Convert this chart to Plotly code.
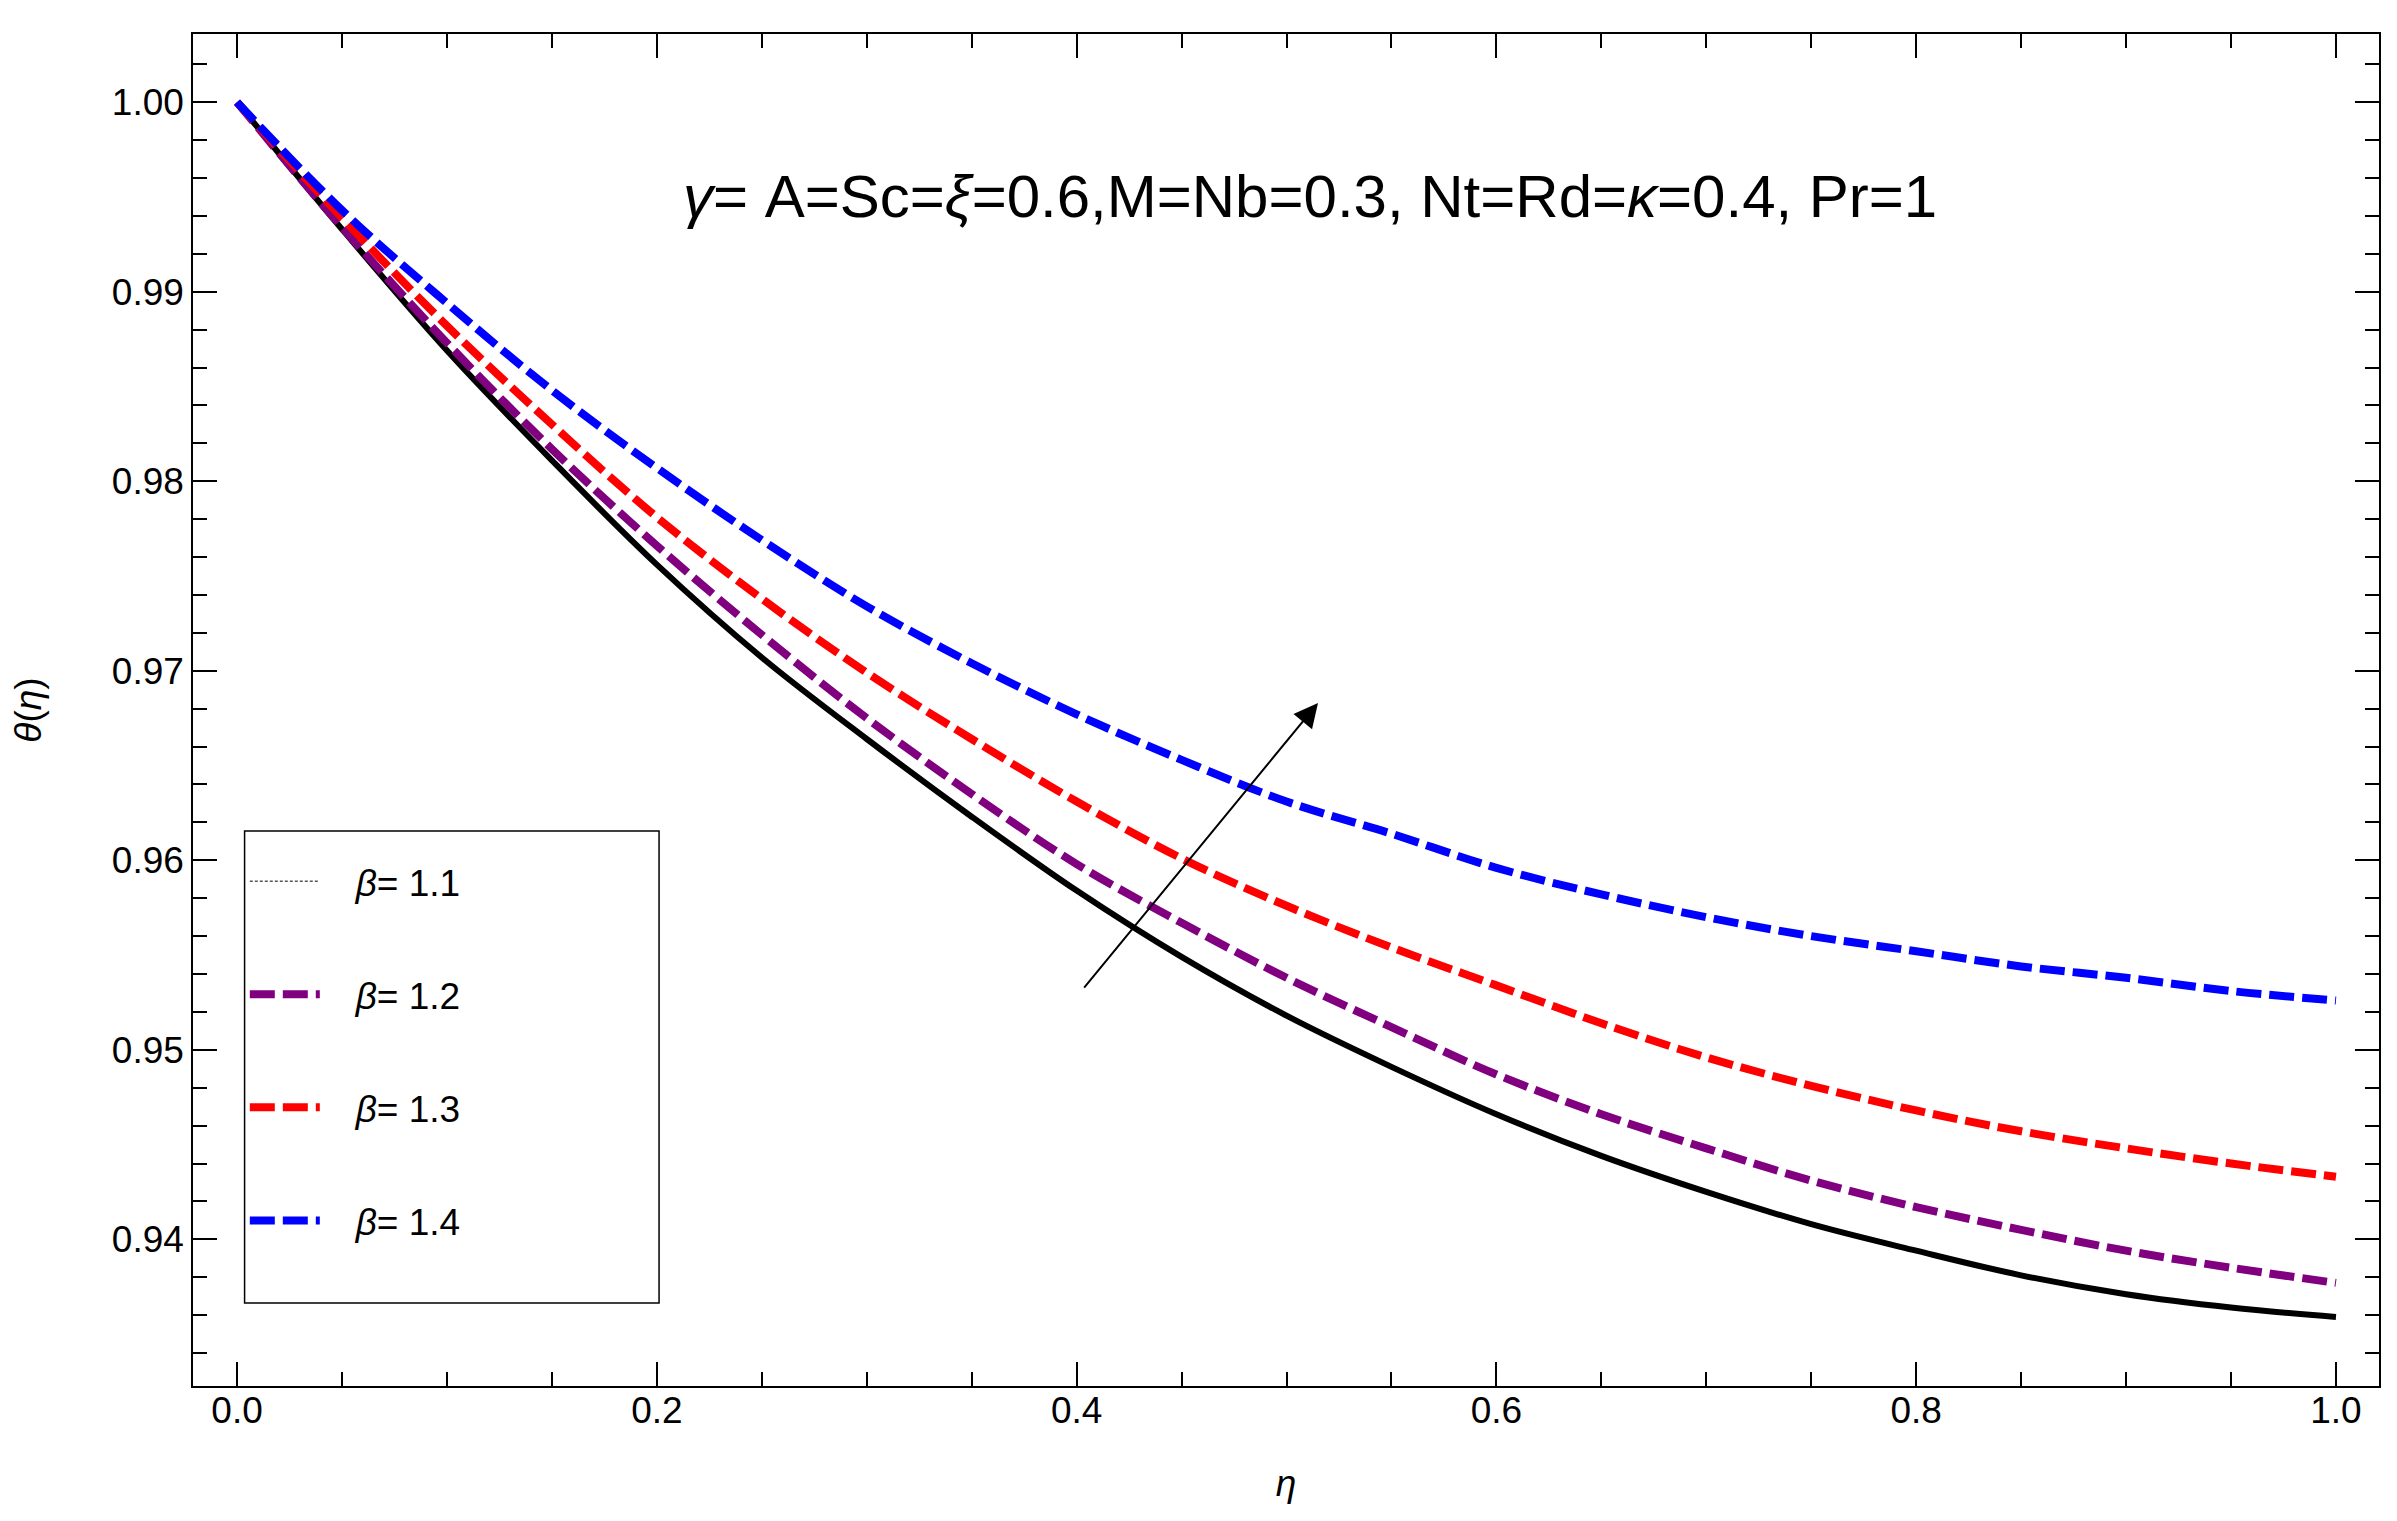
import plotly.graph_objects as go

ETA = [0.0, 0.05, 0.1, 0.15, 0.2, 0.25, 0.3, 0.35, 0.4, 0.45, 0.5,
       0.55, 0.6, 0.65, 0.7, 0.75, 0.8, 0.85, 0.9, 0.95, 1.0]

THETA_B11 = [1.0, 0.9933, 0.9869, 0.9811, 0.9756, 0.9707, 0.9664, 0.9623, 0.9584, 0.9549, 0.9518,
             0.9491, 0.9466, 0.9444, 0.9425, 0.9408, 0.9394, 0.9381, 0.9371, 0.9364, 0.9359]
THETA_B12 = [1.0, 0.9934, 0.9873, 0.9817, 0.9766, 0.9719, 0.9675, 0.9635, 0.9598, 0.9567, 0.9538,
             0.9512, 0.9487, 0.9466, 0.9448, 0.9431, 0.9417, 0.9405, 0.9394, 0.9385, 0.9377]
THETA_B13 = [1.0, 0.9939, 0.9882, 0.9830, 0.9781, 0.9738, 0.9699, 0.9664, 0.9631, 0.9601, 0.9576,
             0.9554, 0.9534, 0.9514, 0.9496, 0.9481, 0.9468, 0.9457, 0.9448, 0.9440, 0.9433]
THETA_B14 = [1.0, 0.9943, 0.9894, 0.9848, 0.9807, 0.9769, 0.9734, 0.9704, 0.9677, 0.9653, 0.9631,
             0.9614, 0.9596, 0.9582, 0.9570, 0.9560, 0.9552, 0.9544, 0.9538, 0.9531, 0.9526]

BETA_LABELS = ["1.1", "1.2", "1.3", "1.4"]

X_TICKS = [0.0, 0.2, 0.4, 0.6, 0.8, 1.0]
Y_TICKS = [0.94, 0.95, 0.96, 0.97, 0.98, 0.99, 1.00]

# arrow: tail -> head, in data units
ARROW_TAIL = (0.403, 0.9532)
ARROW_HEAD = (0.515, 0.9683)

FONT = "Liberation Sans, Arial, sans-serif"
DASH = "25px,8px"
PAD = "\u00a0\u00a0\u00a0"


def beta_name(lab):
    return f"{PAD}<i>β</i>= {lab}"


fig = go.Figure()

# solid black curve (beta = 1.1) drawn without a legend entry
fig.add_trace(go.Scatter(
    x=ETA, y=THETA_B11, mode="lines", showlegend=False,
    line=dict(color="black", width=6, shape="spline"),
))

# legend-only entry for beta = 1.1 (thin dashed in the reference legend)
fig.add_trace(go.Scatter(
    x=[None], y=[None], mode="lines", legendgroup="b11",
    name=beta_name(BETA_LABELS[0]),
    line=dict(color="black", width=1, dash="3px,2px"),
))

for vals, color, lab in [(THETA_B12, "#800080", BETA_LABELS[1]),
                         (THETA_B13, "#ff0000", BETA_LABELS[2]),
                         (THETA_B14, "#0000ff", BETA_LABELS[3])]:
    fig.add_trace(go.Scatter(
        x=ETA, y=vals, mode="lines", legendgroup="b" + lab,
        name=beta_name(lab),
        line=dict(color=color, width=8, dash=DASH, shape="spline"),
    ))

fig.add_annotation(
    x=ARROW_HEAD[0], y=ARROW_HEAD[1], ax=ARROW_TAIL[0], ay=ARROW_TAIL[1],
    xref="x", yref="y", axref="x", ayref="y",
    text="", showarrow=True, arrowhead=2, arrowsize=2.4, arrowwidth=2, arrowcolor="black",
)

fig.add_annotation(
    x=0.511, y=0.995, xref="x", yref="y",
    text="<i>γ</i>= A=Sc=<i>ξ</i>=0.6,M=Nb=0.3, Nt=Rd=<i>κ</i>=0.4, Pr=1",
    showarrow=False, font=dict(family=FONT, size=60, color="black"),
)

# legend frame
fig.add_shape(
    type="rect", xref="paper", yref="paper",
    x0=0.0236, x1=0.2132, y0=0.0614, y1=0.4105,
    line=dict(color="black", width=1.5), fillcolor="rgba(0,0,0,0)", layer="above",
)

axis_common = dict(
    showline=True, linecolor="black", linewidth=1.5, mirror="ticks",
    ticks="inside", ticklen=24, tickwidth=1.5, tickcolor="black",
    showgrid=False, zeroline=False,
    tickfont=dict(family=FONT, size=37, color="black"),
)

fig.update_xaxes(
    range=[-0.021, 1.0205], tickvals=X_TICKS, ticktext=[f"{t:.1f}" for t in X_TICKS],
    ticklabelstandoff=-9,
    minor=dict(ticks="inside", dtick=0.05, tick0=0, ticklen=14, tickwidth=1.5, tickcolor="black"),
    title=dict(text="<i>η</i>", font=dict(family=FONT, size=37, color="black"), standoff=40),
    **axis_common,
)
fig.update_yaxes(
    range=[0.93226, 1.0036], tickvals=Y_TICKS, ticktext=[f"{t:.2f}" for t in Y_TICKS],
    minor=dict(ticks="inside", dtick=0.002, tick0=0.94, ticklen=14, tickwidth=1.5, tickcolor="black"),
    title=dict(text="<i>θ</i>(<i>η</i>)", font=dict(family=FONT, size=37, color="black"), standoff=60),
    **axis_common,
)

fig.update_layout(
    width=2397, height=1521,
    paper_bgcolor="white", plot_bgcolor="white",
    margin=dict(l=185, r=26, t=26, b=143),
    font=dict(family=FONT, size=37, color="black"),
    legend=dict(
        x=0.0237, y=0.396, xanchor="left", yanchor="top",
        borderwidth=0, bgcolor="rgba(0,0,0,0)",
        traceorder="grouped", tracegroupgap=62, itemwidth=70,
        font=dict(family=FONT, size=37, color="black"),
    ),
)

fig.write_html("out.html")
